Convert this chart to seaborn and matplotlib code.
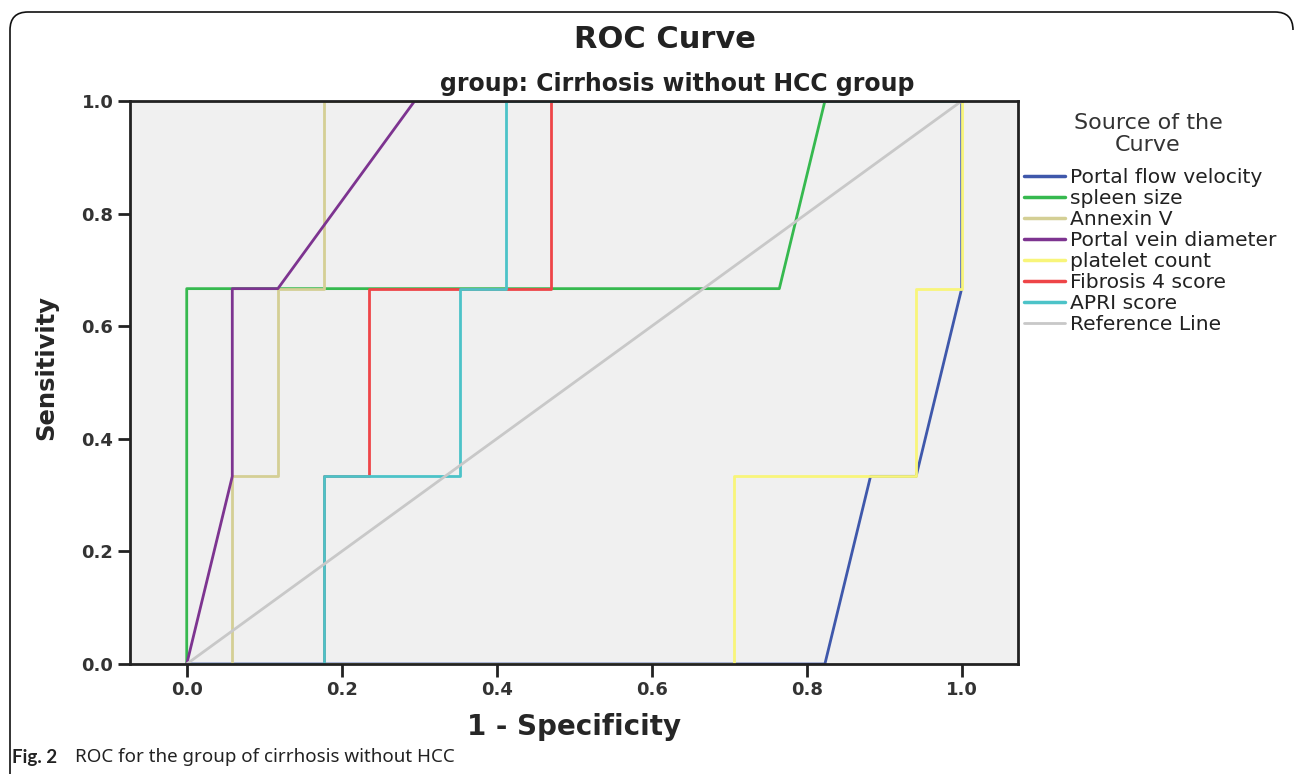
import matplotlib.pyplot as plt
import seaborn as sns
import pandas as pd
from matplotlib.path import Path
from matplotlib.patches import PathPatch

sns.set_style("white")
plt.rcParams["font.family"] = ["DejaVu Sans"]

# ROC curve points (1 - specificity, sensitivity)
flow_x = [0.0, 0.8235, 0.8824, 0.9412, 1.0, 1.0]
flow_y = [0.0, 0.0, 0.3333, 0.3333, 0.6667, 1.0]

spleen_x = [0.0, 0.0, 0.7647, 0.8235, 1.0]
spleen_y = [0.0, 0.6667, 0.6667, 1.0, 1.0]

annexin_x = [0.0, 0.0588, 0.0588, 0.1176, 0.1176, 0.1765, 0.1765, 1.0]
annexin_y = [0.0, 0.0, 0.3333, 0.3333, 0.6667, 0.6667, 1.0, 1.0]

vein_x = [0.0, 0.0588, 0.0588, 0.1176, 0.2941, 1.0]
vein_y = [0.0, 0.3333, 0.6667, 0.6667, 1.0, 1.0]

platelet_x = [0.0, 0.7059, 0.7059, 0.9412, 0.9412, 1.0, 1.0]
platelet_y = [0.0, 0.0, 0.3333, 0.3333, 0.6667, 0.6667, 1.0]

fib4_x = [0.0, 0.1765, 0.1765, 0.2353, 0.2353, 0.4706, 0.4706, 1.0]
fib4_y = [0.0, 0.0, 0.3333, 0.3333, 0.6667, 0.6667, 1.0, 1.0]

apri_x = [0.0, 0.1765, 0.1765, 0.3529, 0.3529, 0.4118, 0.4118, 1.0]
apri_y = [0.0, 0.0, 0.3333, 0.3333, 0.6667, 0.6667, 1.0, 1.0]

ref_x = [0.0, 1.0]
ref_y = [0.0, 1.0]

curves = [
    ("Portal flow velocity", flow_x, flow_y, "#3f58ab"),
    ("spleen size", spleen_x, spleen_y, "#36b94f"),
    ("Annexin V", annexin_x, annexin_y, "#d4cf95"),
    ("Portal vein diameter", vein_x, vein_y, "#7d3490"),
    ("platelet count", platelet_x, platelet_y, "#f8f57a"),
    ("Fibrosis 4 score", fib4_x, fib4_y, "#ee4548"),
    ("APRI score", apri_x, apri_y, "#4cc3c8"),
    ("Reference Line", ref_x, ref_y, "#c8c8c8"),
]

rows = []
for name, xs, ys, _ in curves:
    for i, (x, y) in enumerate(zip(xs, ys)):
        rows.append({"curve": name, "order": i, "fpr": x, "tpr": y})
df = pd.DataFrame(rows)
palette = {name: col for name, _, _, col in curves}

fig = plt.figure(figsize=(12.95, 7.74), dpi=100)
ax = fig.add_axes([130 / 1295, 1 - 664 / 774, 888 / 1295, 563 / 774])
ax.set_facecolor("#f0f0f0")

sns.lineplot(data=df, x="fpr", y="tpr", hue="curve", palette=palette,
             sort=False, estimator=None, linewidth=2.0, ax=ax)
ax.lines[-1].set_linewidth(1.1)

ax.set_xlim(-0.0732, 1.0727)
ax.set_ylim(0, 1)
ax.set_xticks([0.0, 0.2, 0.4, 0.6, 0.8, 1.0])
ax.set_yticks([0.0, 0.2, 0.4, 0.6, 0.8, 1.0])
ax.xaxis.set_major_formatter(plt.FormatStrFormatter("%.1f"))
ax.yaxis.set_major_formatter(plt.FormatStrFormatter("%.1f"))
ax.tick_params(axis="both", direction="out", length=9, width=2, color="#222222",
               labelsize=13, labelcolor="#333333", pad=3,
               bottom=True, left=True)
for lab in ax.get_xticklabels() + ax.get_yticklabels():
    lab.set_fontweight("bold")
for sp in ax.spines.values():
    sp.set_visible(True)
    sp.set_color("#222222")
    sp.set_linewidth(2)

ax.set_xlabel("1 - Specificity", fontsize=20, fontweight="bold", labelpad=10)
ax.set_ylabel("Sensitivity", fontsize=17.5, fontweight="bold")
ax.yaxis.set_label_coords(-0.081, 0.526)

fig.text(665 / 1295, 1 - 40 / 774, "ROC Curve", fontsize=22, fontweight="bold",
         ha="center", va="center", color="#222222")
fig.text(677 / 1295, 1 - 84 / 774, "group: Cirrhosis without HCC group",
         fontsize=17, fontweight="bold", ha="center", va="center", color="#222222")

handles, labels = ax.get_legend_handles_labels()
ax.get_legend().remove()
for h in handles:
    h.set_linewidth(2.5)
handles[-1].set_linewidth(2.0)
fig.text(1148 / 1295, 1 - 134 / 774, "Source of the\nCurve", fontsize=16,
         ha="center", va="center", multialignment="center", color="#333333",
         linespacing=1.1)
leg = fig.legend(handles, labels,
                 loc="upper left", bbox_to_anchor=(1024 / 1295, 1 - 168 / 774),
                 frameon=False, fontsize=14.6,
                 handlelength=2.0, handletextpad=0.25, labelspacing=0.1,
                 borderpad=0, borderaxespad=0)
for t in leg.get_texts():
    t.set_color("#222222")

# caption
fig.text(12 / 1295, 1 - 757 / 774, "Fig. 2", fontsize=13.5, fontweight="bold",
         family=["Lato", "DejaVu Sans"], va="center", ha="left", color="#222222")
fig.text(75 / 1295, 1 - 757 / 774, "ROC for the group of cirrhosis without HCC",
         fontsize=13.5, family=["Noto Sans"], va="center", ha="left", color="#222222")

# rounded outer frame (open at the bottom)
W, H = 1295, 774
pts = [(10, 774), (10, 30), (10, 12), (28, 12), (1275, 12), (1293, 12), (1293, 30)]
codes = [Path.MOVETO, Path.LINETO, Path.CURVE3, Path.CURVE3,
         Path.LINETO, Path.CURVE3, Path.CURVE3]
verts = [(x / W, 1 - y / H) for x, y in pts]
fig.add_artist(PathPatch(Path(verts, codes), transform=fig.transFigure,
                         fill=False, edgecolor="#111111", linewidth=1.2))

fig.savefig("out.png", dpi=100, facecolor="white")
